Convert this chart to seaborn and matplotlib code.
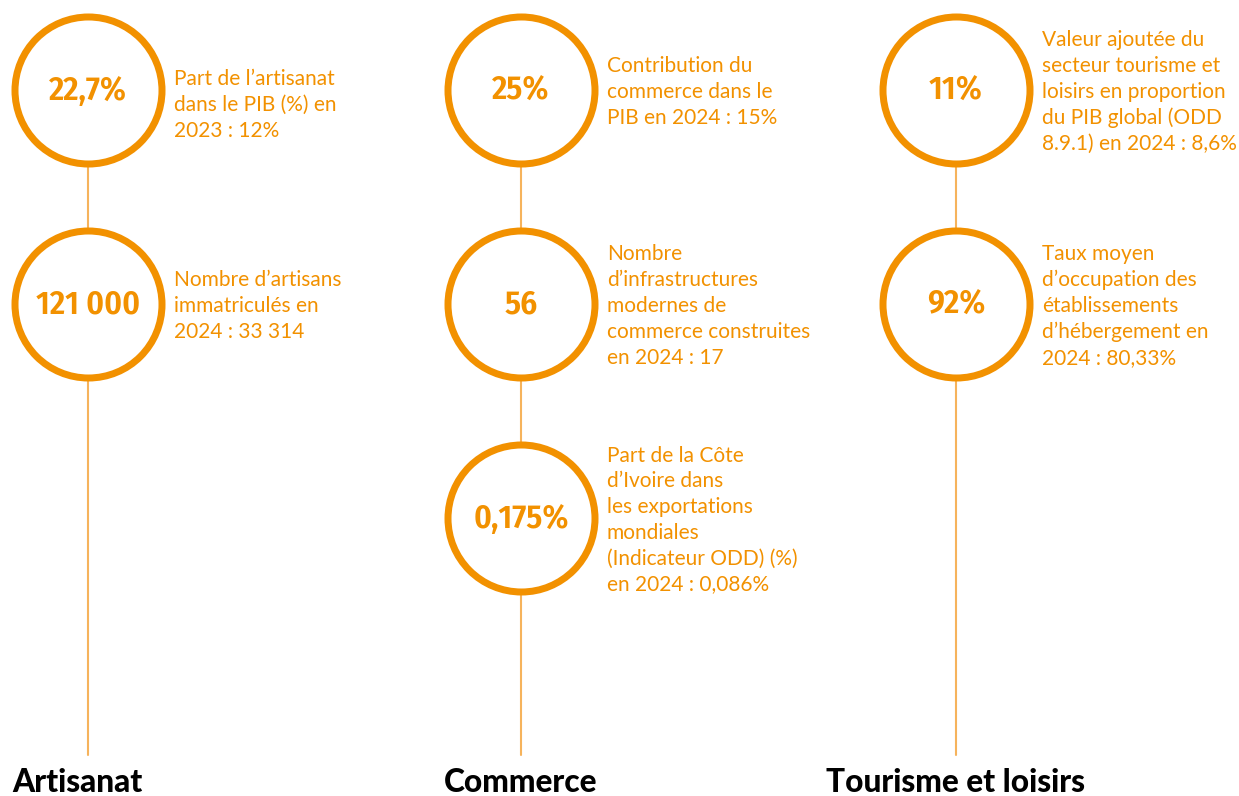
import numpy as np
import matplotlib.pyplot as plt
import seaborn as sns
import pandas as pd

sns.set_theme(style='white')
plt.rcParams['font.family'] = ['Lato', 'DejaVu Sans']

# Data
sectors = ['Artisanat', 'Commerce', 'Tourisme et loisirs']
sector_idx = [0, 0, 1, 1, 1, 2, 2]
level_idx = [0, 1, 0, 1, 2, 0, 1]
big_values = ['22,7%', '121 000', '25%', '56', '0,175%', '11%', '92%']
labels = [
    "Part de l\u2019artisanat\ndans le PIB (%) en\n2023 : 12%",
    "Nombre d\u2019artisans\nimmatricul\u00e9s en\n2024 : 33 314",
    "Contribution du\ncommerce dans le\nPIB en 2024 : 15%",
    "Nombre\nd\u2019infrastructures\nmodernes de\ncommerce construites\nen 2024 : 17",
    "Part de la C\u00f4te\nd\u2019Ivoire dans\nles exportations\nmondiales\n(Indicateur ODD) (%)\nen 2024 : 0,086%",
    "Valeur ajout\u00e9e du\nsecteur tourisme et\nloisirs en proportion\ndu PIB global (ODD\n8.9.1) en 2024 : 8,6%",
    "Taux moyen\nd\u2019occupation des\n\u00e9tablissements\nd\u2019h\u00e9bergement en\n2024 : 80,33%",
]

# layout (pixel space)
col_x = [88, 521, 956]
row_y = [90, 304, 518]
title_x = [12, 444, 826]
label_dy = [15, 2, 2, 2, 2, 2, 2]
ORANGE = '#F29100'
LIGHT = '#F6B35C'
VALUE_FONT = ['Fira Sans Condensed', 'Barlow Semi Condensed', 'DejaVu Sans']

df = pd.DataFrame({
    'x': [col_x[s] for s in sector_idx],
    'y': [row_y[l] for l in level_idx],
    'value': big_values,
    'label': labels,
})

fig = plt.figure(figsize=(12.39, 7.96), dpi=100)
ax = fig.add_axes([0, 0, 1, 1])

# vertical connectors
for x in col_x:
    ax.plot([x, x], [row_y[0], 755], color=LIGHT, lw=1.5, zorder=1)

# rings
diam_pt = 147 * 72 / 100
sns.scatterplot(data=df, x='x', y='y', s=diam_pt ** 2, color='white',
                edgecolor=ORANGE, linewidth=7 * 72 / 100, zorder=2,
                legend=False, ax=ax)
ax.set_xlim(0, 1239)
ax.set_ylim(796, 0)
ax.axis('off')

for i, r in df.iterrows():
    ax.text(r['x'], r['y'] + 1, r['value'], ha='center', va='center',
            fontsize=24, fontweight='semibold', family=VALUE_FONT,
            color=ORANGE, zorder=3)
    ax.text(r['x'] + 86, r['y'] + label_dy[i], r['label'], ha='left',
            va='center', fontsize=15, color=ORANGE, linespacing=1.36,
            zorder=3)

for x, name in zip(title_x, sectors):
    ax.text(x, 782, name, ha='left', va='center', fontsize=22.8,
            fontweight='black', color='black')

fig.savefig('out.png', dpi=100)
